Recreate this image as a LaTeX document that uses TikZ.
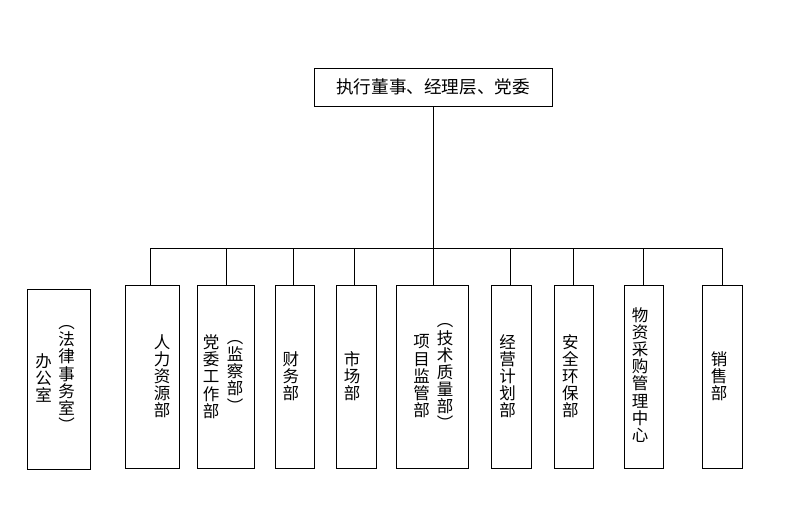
\documentclass[tikz,border=0pt]{standalone}
\usepackage{fontspec}
\newfontfamily\cjk{Noto Sans CJK SC}
\tikzset{
  box/.style={draw=black, line width=1pt, inner sep=0pt},
  vtext/.style={font=\cjk\fontsize{16.5}{17.1}\selectfont, align=center, inner sep=0pt},
  link/.style={line width=1pt}
}
\begin{document}
\begin{tikzpicture}[x=1pt,y=-1pt]
\useasboundingbox[fill=white] (0,0) rectangle (799,519);
% top
\node[box, minimum width=238, minimum height=37.7, font=\cjk\fontsize{17.6}{20}\selectfont] (top) at (433,87.2) {执行董事、经理层、党委};
% boxes
\node[box, minimum width=63.4, minimum height=180] (office) at (59,379.3) {};
\node[box, minimum width=54.4, minimum height=183.4] (hr) at (152.5,377) {};
\node[box, minimum width=57.4, minimum height=183.4] (party) at (226,377) {};
\node[box, minimum width=39, minimum height=183.4] (fin) at (294.8,377) {};
\node[box, minimum width=40.4, minimum height=183.4] (mkt) at (356.5,377) {};
\node[box, minimum width=71.6, minimum height=183.4] (proj) at (432.5,377) {};
\node[box, minimum width=40.4, minimum height=183.4] (biz) at (511.5,377) {};
\node[box, minimum width=39.4, minimum height=183.4] (safe) at (574,377) {};
\node[box, minimum width=39.4, minimum height=183.4] (mat) at (644,377) {};
\node[box, minimum width=40.4, minimum height=183.4] (sales) at (722.5,377) {};
% texts
\node[vtext] (t1a) at (43.5,378) {办\\公\\室};
\node[vtext] (t1b) at (66.7,378.5) {︵\\法\\律\\事\\务\\室\\︶};
\node[vtext] (t2) at (162,376) {人\\力\\资\\源\\部};
\node[vtext] (t3a) at (211,376.7) {党\\委\\工\\作\\部};
\node[vtext] (t3b) at (235,376.3) {︵\\监\\察\\部\\︶};
\node[vtext] (t4) at (290.8,376) {财\\务\\部};
\node[vtext] (t5) at (352,376) {市\\场\\部};
\node[vtext] (t6a) at (421.7,376.2) {项\\目\\监\\管\\部};
\node[vtext] (t6b) at (445,376.7) {︵\\技\\术\\质\\量\\部\\︶};
\node[vtext] (t7) at (507.5,376) {经\\营\\计\\划\\部};
\node[vtext] (t8) at (570.3,376) {安\\全\\环\\保\\部};
\node[vtext] (t9) at (640,375) {物\\资\\采\\购\\管\\理\\中\\心};
\node[vtext] (t10) at (719,376) {销\\售\\部};
% connectors
\coordinate (bar) at (433,248.3);
\draw[link] (top.south) -- (top.south |- bar);
\draw[link] ([xshift=-1.8pt]hr.north |- bar) -- ([xshift=-0.2pt]sales.north |- bar);
\foreach \n/\d in {hr/-1.8,party/0.7,fin/-1.5,mkt/-2.2,proj/0.8,biz/-1.2,safe/-0.7,mat/-0.7,sales/-0.2}{
  \draw[link] ([xshift=\d pt]\n.north |- bar) -- ([xshift=\d pt]\n.north);
}
\end{tikzpicture}
\end{document}
